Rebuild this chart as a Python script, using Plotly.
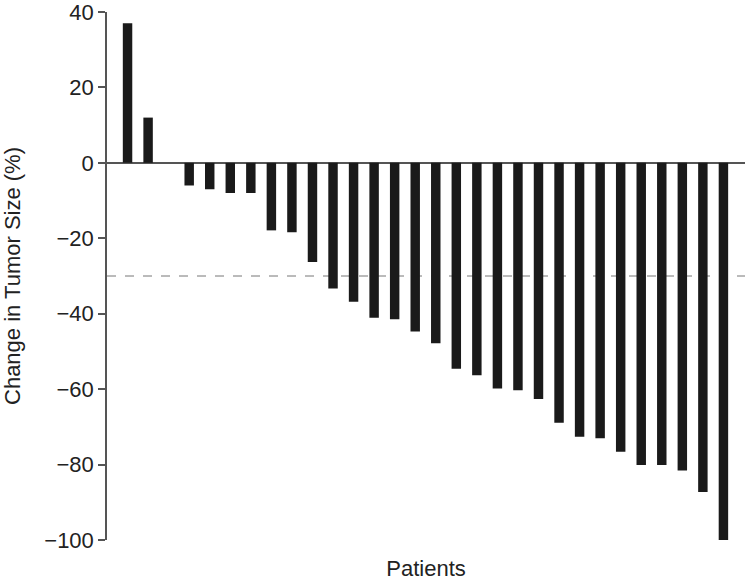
import plotly.graph_objects as go

patients = list(range(1, 31))
tumor_change = [37, 12, 0, -6, -7, -8, -8, -17.9, -18.4, -26.3, -33.3, -36.8, -41.1, -41.5,
                -44.7, -47.8, -54.6, -56.3, -59.8, -60.3, -62.6, -68.9, -72.6, -73.0,
                -76.6, -80.1, -80.1, -81.6, -87.3, -100.6]
threshold = -30
y_ticks = [40, 20, 0, -20, -40, -60, -80, -100]

FONT = "Liberation Sans, Arial, Helvetica, sans-serif"

fig = go.Figure()
fig.add_trace(go.Bar(
    x=patients, y=tumor_change,
    marker=dict(color="#1a1a1a", line=dict(width=0)),
    cliponaxis=False, showlegend=False,
))
fig.add_shape(type="line", xref="paper", x0=0, x1=1, yref="y", y0=threshold, y1=threshold,
              line=dict(color="#777777", width=1, dash="dash"), layer="below")

fig.update_layout(
    width=750, height=581,
    margin=dict(l=107, r=5, t=12, b=41),
    plot_bgcolor="white", paper_bgcolor="white",
    bargap=0.54,
    font=dict(family=FONT, size=22, color="#222222"),
    xaxis=dict(
        range=[0, 31.05], showticklabels=False, ticks="", showgrid=False,
        showline=False, zeroline=False, automargin=False,
        title=dict(text="Patients", standoff=22, font=dict(size=22)),
    ),
    yaxis=dict(
        range=[-100, 40], tickvals=y_ticks, ticktext=[str(v).replace("-", "\u2212") for v in y_ticks],
        ticks="outside", ticklen=7, tickwidth=1.5, tickcolor="#555555",
        showline=True, linecolor="#555555", linewidth=1.5, automargin=False,
        ticklabeloverflow="allow",
        showgrid=False, zeroline=True, zerolinecolor="#555555", zerolinewidth=1.5,
        title=dict(text="Change in Tumor Size (%)", standoff=21, font=dict(size=22)),
        tickfont=dict(size=22),
    ),
)

fig.write_html("out.html", config={"displayModeBar": False},
               post_script="document.body.style.margin='0px';")
